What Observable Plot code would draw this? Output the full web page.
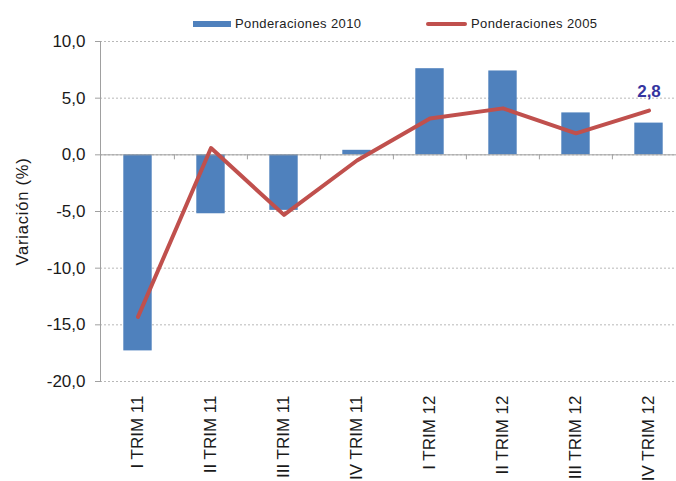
<!DOCTYPE html>
<html>
<head>
<meta charset="utf-8">
<script src="https://cdn.jsdelivr.net/npm/d3@7"></script>
<script src="https://cdn.jsdelivr.net/npm/@observablehq/plot@0.6"></script>
<style>
  html, body { margin: 0; padding: 0; background: #fff; }
  body { width: 676px; height: 481px; overflow: hidden; font-family: "Liberation Sans", Arial, sans-serif; }
  #legend { position: relative; height: 34px; font-size: 13px; color: #222; }
  #legend .sw { position: absolute; }
  #legend .lb { position: absolute; top: 16px; line-height: 16px; letter-spacing: 0.4px; }
  #chart svg g[aria-label="y-axis label"] text { letter-spacing: 0.8px; }
</style>
</head>
<body>
<div id="legend"></div>
<div id="chart"></div>
<script>
const categories = ["I TRIM 11", "II TRIM 11", "III TRIM 11", "IV TRIM 11", "I TRIM 12", "II TRIM 12", "III TRIM 12", "IV TRIM 12"];
const pond2010 = [-17.3, -5.2, -4.9, 0.4, 7.6, 7.4, 3.7, 2.8];
const pond2005 = [-14.3, 0.6, -5.3, -0.5, 3.2, 4.1, 1.9, 3.9];
const yTicks = [-20, -15, -10, -5, 0, 5, 10];
const seriesNames = ["Ponderaciones 2010", "Ponderaciones 2005"];
const labelIndex = 7;

const barColor = "#4F81BD";
const lineColor = "#C0504D";

const bars = categories.map((c, i) => ({cat: c, value: pond2010[i]}));
const line = categories.map((c, i) => ({cat: c, value: pond2005[i]}));
const labelData = [{cat: categories[labelIndex], value: pond2005[labelIndex], text: pond2010[labelIndex].toFixed(1).replace(".", ",")}];
const fmt = d => d.toFixed(1).replace(".", ",");

// legend
const legend = document.getElementById("legend");
legend.innerHTML = `
  <div class="sw" style="left:193px;top:21px;width:38px;height:6px;background:${barColor}"></div>
  <div class="lb" style="left:235px">${seriesNames[0]}</div>
  <div class="sw" style="left:426px;top:22px;width:41px;height:4px;border-radius:2px;background:${lineColor}"></div>
  <div class="lb" style="left:471px">${seriesNames[1]}</div>
`;

const W = 676, H = 447;
const chart = Plot.plot({
  width: W,
  height: H,
  marginLeft: 100,
  marginRight: 0,
  marginTop: 7,
  marginBottom: 100,
  style: {fontFamily: "Liberation Sans, Arial, sans-serif", color: "#1a1a1a", background: "#fff", overflow: "visible"},
  x: {type: "band", domain: categories, range: [100, 686], padding: 0},
  y: {domain: [-20, 10]},
  marks: [
    Plot.gridY(yTicks, {stroke: "#b8b8b8", strokeOpacity: 1, strokeDasharray: "2,2"}),
    Plot.frame({anchor: "left", stroke: "#a0a0a0"}),
    Plot.axisY({ticks: yTicks, tickFormat: fmt, tickSize: 5, tickPadding: 10, fontSize: 17, stroke: "#a0a0a0", label: null}),
    Plot.axisY({ticks: [], label: "Variación (%)", labelAnchor: "center", labelArrow: "none", labelOffset: 84, fontSize: 16.5}),
    Plot.axisX({anchor: "bottom", tickRotate: -90, tickSize: 0, tickPadding: 14, fontSize: 17, label: null}),
    Plot.barY(bars, {x: "cat", y: "value", fill: barColor, insetLeft: 22.3, insetRight: 22.3}),
    Plot.ruleY([0], {stroke: "#a0a0a0"}),
    Plot.ruleX(categories.slice(1), {x: d => d, y1: 0, y2: 0, insetTop: 5, dx: -36.6, stroke: "#a0a0a0"}),
    Plot.line(line, {x: "cat", y: "value", stroke: lineColor, strokeWidth: 4, strokeLinejoin: "round", strokeLinecap: "round"}),
    Plot.text(labelData, {x: "cat", y: "value", text: "text", dy: -19, fontSize: 17, fontWeight: "bold", fill: "#3535A0"})
  ]
});
document.getElementById("chart").appendChild(chart);
</script>
</body>
</html>
